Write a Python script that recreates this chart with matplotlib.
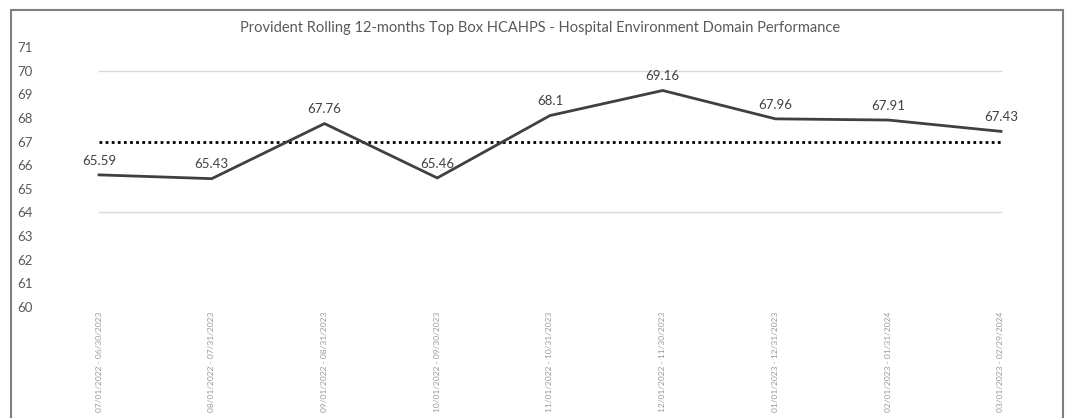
import matplotlib.pyplot as plt
from matplotlib.patches import Rectangle

# Data
periods = ["07/01/2022 - 06/30/2023", "08/01/2022 - 07/31/2023", "09/01/2022 - 08/31/2023",
           "10/01/2022 - 09/30/2023", "11/01/2022 - 10/31/2023", "12/01/2022 - 11/30/2023",
           "01/01/2023 - 12/31/2023", "02/01/2023 - 01/31/2024", "03/01/2023 - 02/29/2024"]
scores = [65.59, 65.43, 67.76, 65.46, 68.1, 69.16, 67.96, 67.91, 67.43]
target = 67
band_lines = [64, 70]
yticks = list(range(60, 72))

plt.rcParams['font.family'] = ['Lato', 'DejaVu Sans']

fig = plt.figure(figsize=(10.65, 4.18), dpi=100)
ax = fig.add_axes([60 / 1065, 1 - 307 / 418, 980 / 1065, 260 / 418])

x = list(range(len(periods)))

# light reference lines and the target line
for v in band_lines:
    ax.plot([x[0], x[-1]], [v, v], color="#d9d9d9", lw=1, zorder=1)
ax.plot([x[0], x[-1]], [target, target], color="black", lw=2, linestyle=(0, (1, 1.2)), zorder=2)

# main series
ax.plot(x, scores, color="#404040", lw=2, zorder=3)
for xi, v in zip(x, scores):
    ax.annotate(f"{v:g}", (xi, v), xytext=(0, 6), textcoords="offset points",
                ha="center", va="bottom", fontsize=9.5, color="#404040")

ax.set_xlim(-0.346, 8.346)
ax.set_ylim(60, 71)
ax.set_yticks(yticks)
ax.set_xticks(x)
ax.set_xticklabels(periods, rotation=90, fontsize=6, color="#999999", va="top")
ax.tick_params(axis="y", length=0, labelsize=9.5, labelcolor="#595959")
ax.tick_params(axis="x", length=0, pad=3)
for lab in ax.get_yticklabels():
    lab.set_horizontalalignment("left")
    lab.set_x(-38 / 980)
for s in ax.spines.values():
    s.set_visible(False)

fig.text(540 / 1065, 1 - 28 / 418, "Provident Rolling 12-months Top Box HCAHPS - Hospital Environment Domain Performance",
         ha="center", va="center", fontsize=10.5, color="#595959")

# outer chart border
fig.patches.append(Rectangle((11 / 1065, -0.05), 1052 / 1065, 1.05 - 10 / 418, transform=fig.transFigure,
                             fill=False, edgecolor="#808080", lw=1.5))

fig.savefig("out.png", dpi=100)
